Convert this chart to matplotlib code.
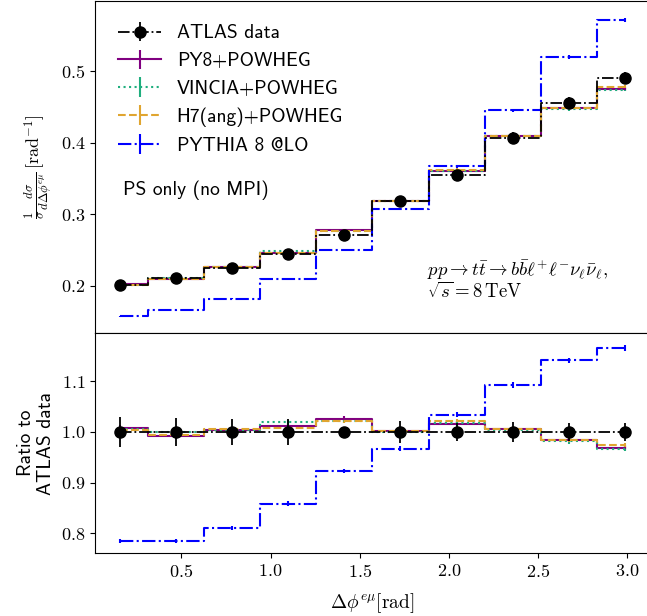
import numpy as np
import matplotlib
matplotlib.use('Agg')
import matplotlib.pyplot as plt
from matplotlib.ticker import FuncFormatter

plt.rcParams['font.family'] = ['cmss10', 'DejaVu Sans']
plt.rcParams['mathtext.fontset'] = 'cm'
plt.rcParams['axes.unicode_minus'] = False

# bin centres of the delta-phi distribution (10 bins over [0, pi])
x = (np.arange(10) + 0.5) * np.pi / 10

# ATLAS data, normalised cross section and relative uncertainty
atlas = [0.201, 0.211, 0.225, 0.244, 0.271, 0.318, 0.355, 0.407, 0.455, 0.490]
atlas_rel = [0.030, 0.027, 0.025, 0.025, 0.008, 0.021, 0.017, 0.020, 0.018, 0.018]

# model / data ratios
py8_ratio = [1.008, 0.992, 1.004, 1.011, 1.026, 1.001, 1.016, 1.005, 0.985, 0.969]
vincia_ratio = [1.005, 0.999, 1.004, 1.019, 1.022, 1.000, 1.017, 1.004, 0.982, 0.967]
h7_ratio = [1.003, 0.994, 1.005, 1.008, 1.022, 1.001, 1.021, 1.006, 0.985, 0.974]
lo_ratio = [0.785, 0.786, 0.811, 0.859, 0.923, 0.967, 1.034, 1.093, 1.141, 1.166]
model_rel = [0.005, 0.005, 0.005, 0.005, 0.005, 0.005, 0.005, 0.005, 0.005, 0.005]

atlas = np.array(atlas)
atlas_err = atlas * np.array(atlas_rel)
model_rel = np.array(model_rel)

models = [
    ('PY8+POWHEG', py8_ratio, 'purple', '-'),
    ('VINCIA+POWHEG', vincia_ratio, '#1fae7e', ':'),
    ('H7(ang)+POWHEG', h7_ratio, '#e0a530', '--'),
    ('PYTHIA 8 @LO', lo_ratio, 'blue', '-.'),
]

fig = plt.figure(figsize=(6.47, 6.16), dpi=100)
ax1 = fig.add_axes([0.1468, 0.4594, 0.8578, 0.5390])
ax2 = fig.add_axes([0.1468, 0.1018, 0.8578, 0.3576], sharex=ax1)

# upper panel
ax1.errorbar(x, atlas, yerr=atlas_err, color='k', ls='-.', marker='o', ms=8,
             lw=1.3, drawstyle='steps-mid', label='ATLAS data', zorder=5)
for name, r, c, ls in models:
    y = atlas * np.array(r)
    ax1.errorbar(x, y, yerr=y * model_rel, color=c, ls=ls, lw=1.5,
                 drawstyle='steps-mid', label=name)

# lower panel
ax2.errorbar(x, atlas / atlas, yerr=np.array(atlas_rel), color='k', ls='-.',
             marker='o', ms=8, lw=1.3, drawstyle='steps-mid', zorder=5)
for name, r, c, ls in models:
    r = np.array(r)
    ax2.errorbar(x, r, yerr=r * model_rel, color=c, ls=ls, lw=1.5,
                 drawstyle='steps-mid')

ax1.set_xlim(0.016, 3.126)
ax1.set_ylim(0.1344, 0.5975)
ax2.set_ylim(0.761, 1.195)
ax1.set_yticks([0.2, 0.3, 0.4, 0.5])
ax2.set_yticks([0.8, 0.9, 1.0, 1.1])
ax2.set_xticks([0.5, 1.0, 1.5, 2.0, 2.5, 3.0])

fmt = FuncFormatter(lambda v, p: r'$%.1f$' % v)
ax1.yaxis.set_major_formatter(fmt)
ax2.yaxis.set_major_formatter(fmt)
ax2.xaxis.set_major_formatter(fmt)
ax1.tick_params(labelbottom=False)
for ax in (ax1, ax2):
    ax.tick_params(labelsize=13)

ax1.set_ylabel(r'$\frac{1}{\sigma}\frac{d\sigma}{d\Delta\phi^{e\mu}}\,[\mathrm{rad}^{-1}]$',
               fontsize=13)
ax2.set_ylabel('Ratio to\nATLAS data', fontsize=14)
ax2.set_xlabel(r'$\Delta\phi^{e\mu} [\mathrm{rad}]$', fontsize=14, labelpad=8)
fig.align_ylabels([ax1, ax2])

ax1.legend(loc='upper left', frameon=False, fontsize=14, handlelength=2.2,
           labelspacing=0.5, borderaxespad=0.8)
ax1.text(0.05, 0.43, 'PS only (no MPI)', transform=ax1.transAxes, fontsize=14,
         va='center')
ax1.text(0.598, 0.1054,
         r'$pp \to t\bar{t} \to b\bar{b}\ell^{+}\ell^{-}\nu_\ell\bar{\nu}_\ell,$'
         '\n' r'$\sqrt{s} = 8\,\mathrm{TeV}$',
         transform=ax1.transAxes, fontsize=13.5, va='baseline', ha='left',
         linespacing=1.0)

fig.savefig('out.png', dpi=100)
